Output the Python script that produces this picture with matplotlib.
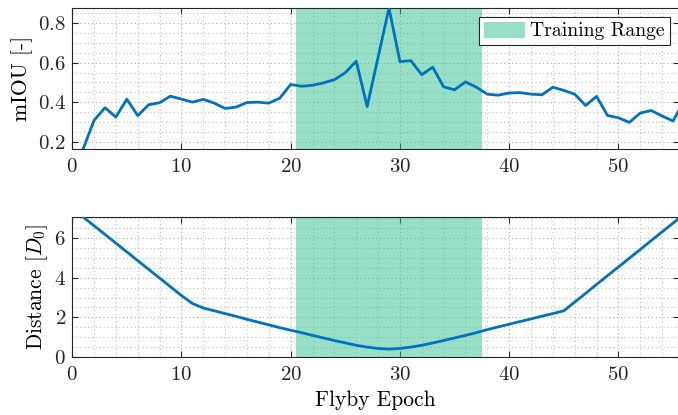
import matplotlib
matplotlib.use("Agg")
import matplotlib.pyplot as plt
from matplotlib.ticker import MultipleLocator

epochs = list(range(1, 57))
miou = [0.165, 0.309, 0.373, 0.326, 0.416, 0.333, 0.388, 0.398, 0.431, 0.416,
        0.401, 0.415, 0.396, 0.369, 0.376, 0.399, 0.401, 0.396, 0.421, 0.490,
        0.481, 0.486, 0.498, 0.514, 0.549, 0.607, 0.379, 0.627, 0.875, 0.605,
        0.610, 0.539, 0.577, 0.478, 0.463, 0.503, 0.476, 0.441, 0.436, 0.447,
        0.449, 0.441, 0.438, 0.476, 0.460, 0.441, 0.384, 0.430, 0.334, 0.322,
        0.299, 0.346, 0.359, 0.331, 0.306, 0.405]
distance = [7.06, 6.62, 6.18, 5.74, 5.30, 4.86, 4.42, 3.98, 3.54, 3.10,
            2.70, 2.47, 2.33, 2.19, 2.05, 1.90, 1.76, 1.62, 1.48, 1.35,
            1.23, 1.09, 0.96, 0.83, 0.71, 0.59, 0.50, 0.43, 0.40, 0.43,
            0.50, 0.59, 0.71, 0.83, 0.96, 1.09, 1.23, 1.38, 1.52, 1.65,
            1.79, 1.92, 2.06, 2.19, 2.33, 2.77, 3.21, 3.66, 4.10, 4.54,
            4.98, 5.42, 5.87, 6.31, 6.75, 7.19]
train_range = (20.5, 37.5)
xlims = (0, 55.5)
dist_ylim = (0, 7.06)

plt.rcParams.update({
    "font.family": "serif",
    "font.serif": ["cmr10"],
    "mathtext.fontset": "cm",
    "axes.formatter.use_mathtext": True,
    "font.size": 15,
    "axes.unicode_minus": False,
})

line_color = "#0072BD"
shade_color = "#31C191"
edge = "#262626"

fig = plt.figure(figsize=(6.78, 4.15), dpi=100)
W, H = 678, 415
left = 72.2 / W
right = 678.5 / W
ax1 = fig.add_axes([left, 1 - 149 / H, right - left, 141 / H])
ax2 = fig.add_axes([left, 1 - 357 / H, right - left, 140 / H])

for ax in (ax1, ax2):
    ax.axvspan(*train_range, color=shade_color, alpha=0.5, lw=0, zorder=1,
               label="Training Range")
    ax.set_xlim(*xlims)
    ax.xaxis.set_major_locator(MultipleLocator(10))
    ax.xaxis.set_minor_locator(MultipleLocator(2))
    ax.grid(which="major", color="#b0b0b0", linestyle=(0, (1, 2.5)), lw=0.8, zorder=0)
    ax.grid(which="minor", color="#c0c0c0", linestyle=(0, (1, 2.5)), lw=0.8, zorder=0)
    ax.tick_params(which="major", direction="in", length=4, width=0.8,
                   top=True, right=True, colors=edge, labelcolor="#262626")
    ax.tick_params(axis="x", which="major", pad=6.5)
    ax.tick_params(axis="y", which="major", pad=4.5)
    ax.tick_params(which="minor", length=0, top=True, right=True)
    for s in ax.spines.values():
        s.set_color(edge)
        s.set_linewidth(0.8)
    ax.set_axisbelow(True)

ax1.plot(epochs, miou, color=line_color, lw=2.0, zorder=3)
ax1.set_ylim(min(miou), max(miou))
ax1.yaxis.set_major_locator(MultipleLocator(0.2))
ax1.yaxis.set_minor_locator(MultipleLocator(0.05))
ax1.set_ylabel("mIOU [-]", fontsize=15.5)
ax1.yaxis.set_label_coords(-0.064, 0.5)
leg = ax1.legend(loc="upper right", fancybox=False, framealpha=1,
                 edgecolor=edge, handlelength=2.1, handleheight=0.85,
                 borderpad=0.25, handletextpad=0.25, borderaxespad=0.45,
                 fontsize=14.2)
leg.get_frame().set_linewidth(0.8)

ax2.plot(epochs, distance, color=line_color, lw=2.0, zorder=3)
ax2.set_ylim(*dist_ylim)
ax2.yaxis.set_major_locator(MultipleLocator(2))
ax2.yaxis.set_minor_locator(MultipleLocator(0.5))
ax2.set_ylabel(r"Distance $[D_0]$", fontsize=15.5)
ax2.yaxis.set_label_coords(-0.036, 0.5)
ax2.set_xlabel("Flyby Epoch", labelpad=5, fontsize=15.5)

fig.savefig("out.png", dpi=100)
